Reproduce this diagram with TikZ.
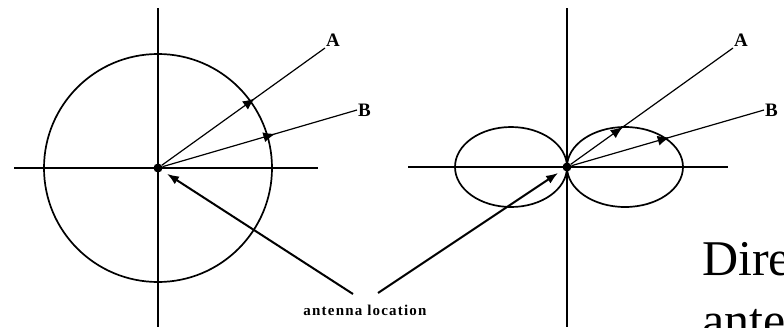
\documentclass[tikz,border=0pt]{standalone}
\usepackage{fontspec}
\setmainfont{Liberation Serif}
\usetikzlibrary{arrows.meta,decorations.markings}
\begin{document}
\begin{tikzpicture}[
    x=1pt, y=-1pt,
    axis/.style={line width=1.8pt},
    pattern/.style={line width=1.7pt},
    dot/.style={circle, fill, inner sep=0pt, minimum size=9pt},
    lbl/.style={font=\fontsize{19}{21}\selectfont\bfseries, inner sep=1pt},
    ray/.style={line width=1.2pt, postaction={decorate}, decoration={markings,
        mark=at position #1 with {\arrow{Latex[length=12pt,width=10pt]}}}},
    ptr/.style={-{Latex[length=12pt,width=9pt]}, line width=2pt, shorten >=6pt}
    ]
    
    \useasboundingbox (0,0) rectangle (784,327);
    \clip (0,0) rectangle (784,327);
    
    % isotropic
    \draw[axis] (158,8) -- (158,327);
    \draw[axis] (14,168) -- (318,168);
    \draw[pattern] (158,168) circle[radius=114];
    \node[dot] (o1) at (158,168) {};
    \node[lbl, anchor=south west] (A1) at (325,48) {A};
    \node[lbl, anchor=west] (B1) at (357,110) {B};
    \draw[ray=0.57] (o1) -- (A1.south west);
    \draw[ray=0.58] (o1) -- (B1.west);
    
    % dipole
    \draw[axis] (567,8) -- (567,327);
    \draw[axis] (408,167) -- (728,167);
    \draw[pattern] (511,167) ellipse[x radius=56, y radius=40];
    \draw[pattern] (625,167) ellipse[x radius=58, y radius=40];
    \node[dot] (o2) at (567,167) {};
    \node[lbl, anchor=south west] (A2) at (733,48) {A};
    \node[lbl, anchor=west] (B2) at (764,110) {B};
    \draw[ray=0.32] (o2) -- (A2.south west);
    \draw[ray=0.51] (o2) -- (B2.west);
    
    \node[font=\fontsize{15}{17}\selectfont\bfseries\addfontfeatures{LetterSpace=8}] (ant) at (365,310) {antenna location};
    \coordinate (s1) at (353,294);
    \coordinate (s2) at (378,293);
    \draw[ptr] (s1) -- (o1);
    \draw[ptr] (s2) -- (o2);
    
    \node[anchor=base west, align=left, inner sep=0pt, font=\fontsize{50}{62}\selectfont] (title) at (702,337) {Directional\\antenna};
    
\end{tikzpicture}
\end{document}
